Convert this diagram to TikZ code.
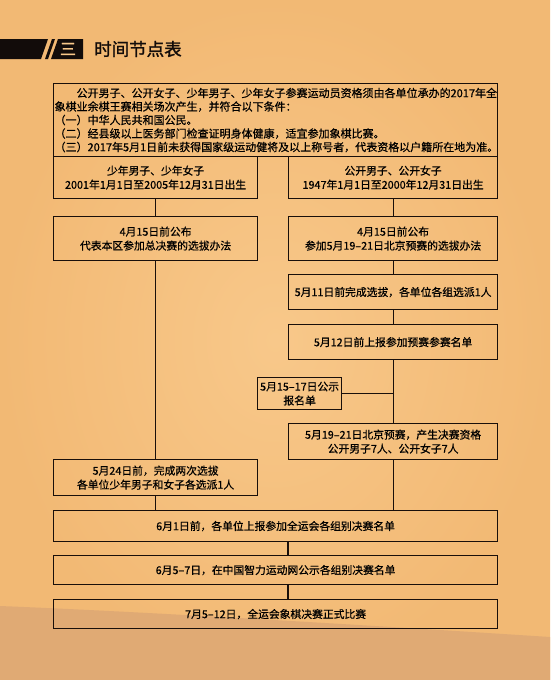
\documentclass[tikz,border=0pt]{standalone}
\usepackage{fontspec}
\setmainfont{Noto Sans CJK SC}[FakeBold=0.6]
\newfontfamily\titlefont{Noto Sans CJK SC}[FakeBold=1.5]
\usetikzlibrary{calc}
\definecolor{bgout}{RGB}{242,185,116}
\definecolor{bgin}{RGB}{248,200,138}
\definecolor{hillc}{RGB}{224,170,116}
\definecolor{linec}{RGB}{25,15,10}
\definecolor{headc}{RGB}{18,12,10}
\begin{document}
\begin{tikzpicture}[x=1pt,y=-1pt,
  box/.style={draw=linec,line width=1.2pt,inner sep=1pt,anchor=north west,
    font=\fontsize{10.8}{14}\selectfont,align=center},
  link/.style={draw=linec,line width=1.2pt}]
% background
\useasboundingbox (0,0) rectangle (550,680);
\shade[inner color=bgin,outer color=bgout] (0,0) rectangle (550,680);
\fill[hillc] (0,606) .. controls (150,612) and (380,626) .. (550,637) -- (550,680) -- (0,680) -- cycle;
% header
\fill[headc] (0,39) -- (48,39) -- (41,59) -- (0,59) -- cycle;
\fill[headc] (52,39) -- (55,39) -- (48,59) -- (45,59) -- cycle;
\fill[headc] (58,39) -- (83,39) -- (83,59) -- (51,59) -- cycle;
\node[text=bgin,font=\fontsize{16}{16}\selectfont\titlefont] (san) at (68,49) {三};
\node[anchor=west,text=headc,font=\fontsize{17.5}{17.5}\selectfont\titlefont,inner sep=0pt] (title) at (94,49) {时间节点表};
% top box
\node[box,align=left,text width=442pt,minimum height=73pt,font=\fontsize{11}{13.5}\selectfont] (top) at (53,83)
 {\hspace*{22pt}公开男子、公开女子、少年男子、少年女子参赛运动员资格须由各单位承办的2017年全\\
  象棋业余棋王赛相关场次产生，并符合以下条件：\\
  （一）中华人民共和国公民。\\
  （二）经县级以上医务部门检查证明身体健康，适宜参加象棋比赛。\\
  （三）2017年5月1日前未获得国家级运动健将及以上称号者，代表资格以户籍所在地为准。};
% left column
\node[box,minimum width=204pt,minimum height=42pt] (la) at (53,156) {少年男子、少年女子\\2001年1月1日至2005年12月31日出生};
\node[box,minimum width=204pt,minimum height=44pt] (lb) at (53,216) {4月15日前公布\\代表本区参加总决赛的选拔办法};
\node[box,minimum width=204pt,minimum height=36pt] (lc) at (53,459) {5月24日前，完成两次选拔\\各单位少年男子和女子各选派1人};
% right column
\node[box,minimum width=209pt,minimum height=42pt] (ra) at (288,156) {公开男子、公开女子\\1947年1月1日至2000年12月31日出生};
\node[box,minimum width=209pt,minimum height=44pt] (rb) at (288,216) {4月15日前公布\\参加5月19–21日北京预赛的选拔办法};
\node[box,minimum width=209pt,minimum height=35pt] (rc) at (288,274) {5月11日前完成选拔，各单位各组选派1人};
\node[box,minimum width=209pt,minimum height=35pt] (rd) at (288,324) {5月12日前上报参加预赛参赛名单};
\node[box,minimum width=84pt,minimum height=32pt] (side) at (257,377) {5月15–17日公示\\报名单};
\node[box,minimum width=209pt,minimum height=36pt] (re) at (288,423) {5月19–21日北京预赛，产生决赛资格\\公开男子7人、公开女子7人};
% full-width boxes
\node[box,minimum width=444pt,minimum height=31pt] (fa) at (53,510) {6月1日前，各单位上报参加全运会各组别决赛名单};
\node[box,minimum width=444pt,minimum height=29pt] (fb) at (53,555) {6月5–7日，在中国智力运动网公示各组别决赛名单};
\node[box,minimum width=444pt,minimum height=29pt] (fc) at (53,599) {7月5–12日，全运会象棋决赛正式比赛};
% connectors
\draw[link] (la) -- (lb);
\draw[link] (lb) -- (lc);
\draw[link] (lc.south) -- (lc.south |- fa.north);
\draw[link] (ra) -- (rb);
\draw[link] (rb) -- (rc);
\draw[link] (rc) -- (rd);
\draw[link] (rd) -- (re);
\draw[link] (re.south) -- (re.south |- fa.north);
\coordinate (sj) at (side.east -| rd.south);
\draw[link] (side.east) -- (sj);
\draw[link] (fa.south -| re.west) -- (fb.north -| re.west);
\draw[link] (fb.south -| re.west) -- (fc.north -| re.west);
\end{tikzpicture}
\end{document}
